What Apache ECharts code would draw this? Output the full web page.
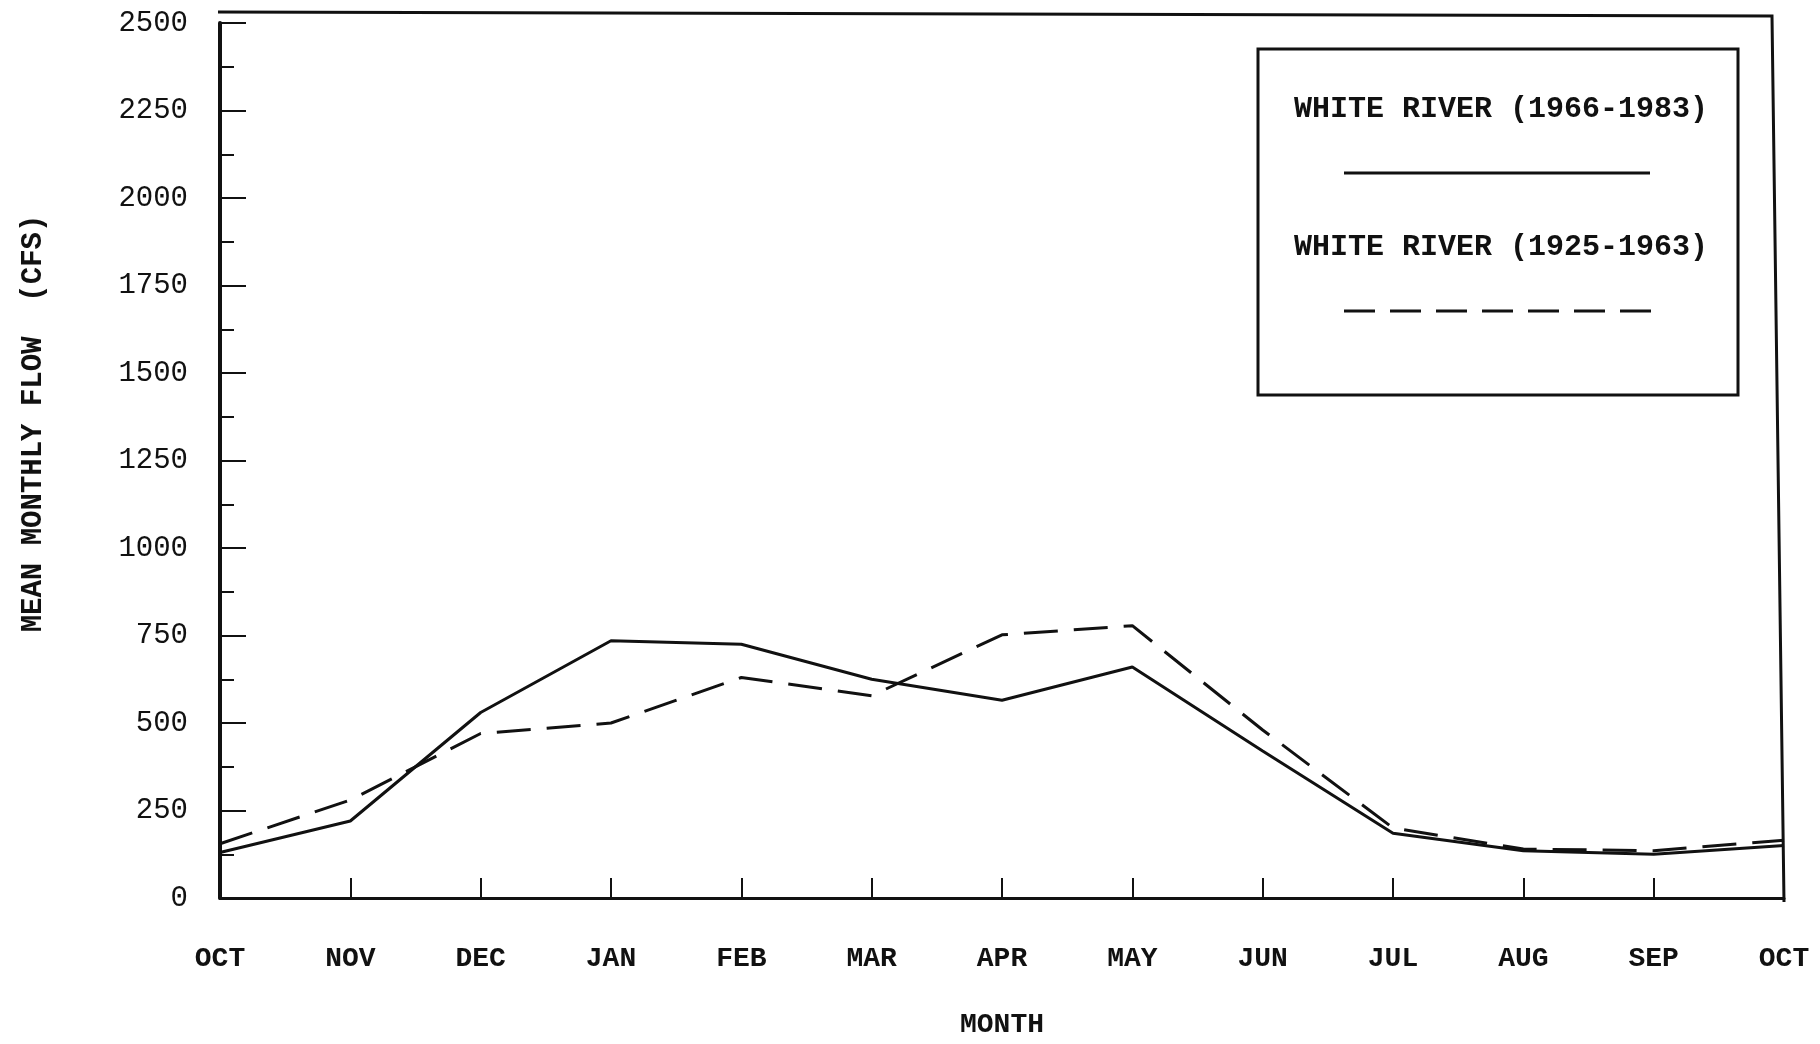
<!DOCTYPE html>
<html>
<head>
<meta charset="utf-8">
<script src="https://cdn.jsdelivr.net/npm/echarts@6/dist/echarts.min.js"></script>
<style>
    html, body { margin: 0; padding: 0; background: #fff; }
    #chart { width: 1820px; height: 1044px; }
</style>
</head>
<body>
<div id="chart"></div>
<script>
// data
const months = ['OCT', 'NOV', 'DEC', 'JAN', 'FEB', 'MAR', 'APR', 'MAY', 'JUN', 'JUL', 'AUG', 'SEP', 'OCT']
const recentName = 'WHITE RIVER (1966-1983)'
const recentFlow = [130, 220, 530, 735, 725, 625, 565, 660, 420, 185, 135, 125, 150]
const earlyName = 'WHITE RIVER (1925-1963)'
const earlyFlow = [155, 280, 470, 500, 630, 578, 752, 778, 480, 200, 140, 135, 165]

const ink = '#111'
const font = 'Liberation Mono'

let chart = echarts.init(document.querySelector('#chart'))

let option = {
    backgroundColor: '#fff',
    animation: false,
    grid: {
        left: 220,
        right: 36,
        top: 23,
        bottom: 142
    },
    xAxis: {
        type: 'category',
        data: months,
        boundaryGap: false,
        name: 'MONTH',
        nameLocation: 'middle',
        nameGap: 113,
        nameTextStyle: { color: ink, fontFamily: font, fontSize: 28, fontWeight: 'bold' },
        axisLine: { lineStyle: { color: ink, width: 3 } },
        axisTick: { inside: true, length: 20, lineStyle: { color: ink, width: 2 } },
        axisLabel: { color: ink, fontFamily: font, fontSize: 28, fontWeight: 'bold', margin: 47, interval: 0 },
        splitLine: { show: false }
    },
    yAxis: {
        type: 'value',
        min: 0,
        max: 2500,
        interval: 250,
        name: 'MEAN MONTHLY FLOW  (CFS)',
        nameLocation: 'middle',
        nameGap: 172,
        nameTextStyle: { color: ink, fontFamily: font, fontSize: 29, fontWeight: 'bold', padding: [0, 0, 0, 74] },
        axisLine: { show: true, lineStyle: { color: ink, width: 4 } },
        axisTick: { show: true, inside: true, length: 26, lineStyle: { color: ink, width: 2 } },
        minorTick: { show: true, splitNumber: 2, length: 14, lineStyle: { color: ink, width: 2 } },
        axisLabel: { color: ink, fontFamily: font, fontSize: 29, margin: 32, formatter: (v) => String(v) },
        splitLine: { show: false }
    },
    series: [
        {
            name: recentName,
            type: 'line',
            data: recentFlow,
            symbol: 'none',
            lineStyle: { color: ink, width: 3 }
        },
        {
            name: earlyName,
            type: 'line',
            data: earlyFlow,
            symbol: 'none',
            lineStyle: { color: ink, width: 3, type: [34, 16] }
        }
    ],
    graphic: [
        // top and right border of the frame
        {
            type: 'polyline',
            silent: true,
            shape: { points: [[218, 12], [1772, 16], [1784, 902]] },
            style: { stroke: ink, lineWidth: 3, fill: null }
        },
        // legend box
        {
            type: 'rect',
            silent: true,
            shape: { x: 1258, y: 49, width: 480, height: 346 },
            style: { stroke: ink, lineWidth: 3, fill: '#fff' }
        },
        {
            type: 'text',
            silent: true,
            style: { x: 1501, y: 109, text: recentName, fill: ink, font: 'bold 30px "Liberation Mono"', align: 'center', verticalAlign: 'middle' }
        },
        {
            type: 'line',
            silent: true,
            shape: { x1: 1344, y1: 173, x2: 1650, y2: 173 },
            style: { stroke: ink, lineWidth: 3 }
        },
        {
            type: 'text',
            silent: true,
            style: { x: 1501, y: 247, text: earlyName, fill: ink, font: 'bold 30px "Liberation Mono"', align: 'center', verticalAlign: 'middle' }
        },
        {
            type: 'line',
            silent: true,
            shape: { x1: 1344, y1: 311, x2: 1652, y2: 311 },
            style: { stroke: ink, lineWidth: 3, lineDash: [31, 15] }
        }
    ]
}

chart.setOption(option)
</script>
</body>
</html>
